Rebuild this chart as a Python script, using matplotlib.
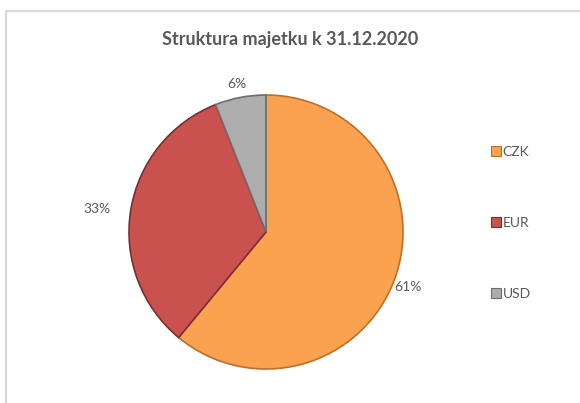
import numpy as np
import matplotlib.pyplot as plt
from matplotlib.lines import Line2D
from matplotlib.patches import Patch

plt.rcParams['font.family'] = ['Lato', 'DejaVu Sans']

# Asset structure at year end
currencies = ['CZK', 'EUR', 'USD']
shares = [61, 33, 6]
fill_colors = ['#FBA251', '#C9524F', '#ADADAD']
edge_colors = ['#B8702E', '#7E2E2C', '#6E6E6E']
text_color = '#595959'

fig = plt.figure(figsize=(5.8, 4.03), dpi=100)
fig.patch.set_facecolor('white')

# chart frame (only top and left edges are inside the image)
fig.add_artist(Line2D([6 / 580, 6 / 580, 1], [0, 1 - 11 / 403, 1 - 11 / 403],
                      color='#D9D9D9', lw=1.6))

fig.text(290 / 580, 1 - 40 / 403, 'Struktura majetku k 31.12.2020',
         ha='center', va='center', fontsize=13, fontweight='bold',
         color=text_color)

r_px = 137
ax = fig.add_axes([66 / 580, 1 / 403, 400 / 580, 340 / 403])
wedges, texts, autotexts = ax.pie(
    shares, colors=fill_colors, startangle=90, counterclock=False,
    autopct='%1.0f%%', pctdistance=1.16,
    wedgeprops=dict(linewidth=1.2),
    textprops=dict(color=text_color, fontsize=10))
for w, ec in zip(wedges, edge_colors):
    w.set_edgecolor(ec)

# push the percentage labels out from the rim, outside-end style
label_dist = [1.1, 1.25, 1.13]
for w, t, d in zip(wedges, autotexts, label_dist):
    ang = np.deg2rad((w.theta1 + w.theta2) / 2)
    t.set_position((d * np.cos(ang), d * np.sin(ang) - 0.03))

ax.set_xlim(-200 / r_px, 200 / r_px)
ax.set_ylim(-170 / r_px, 170 / r_px)
ax.set_aspect('auto')
ax.axis('off')

handles = [Patch(facecolor=c, edgecolor=e, lw=0.8) for c, e in zip(fill_colors, edge_colors)]
fig.legend(handles, currencies, loc='upper left',
           bbox_to_anchor=(491 / 580, 1 - 146 / 403), frameon=False,
           fontsize=10, labelcolor=text_color, handlelength=0.7,
           handleheight=0.7, handletextpad=0.15, labelspacing=4.25,
           borderpad=0, borderaxespad=0)

fig.savefig('out.png', dpi=100, facecolor='white')
